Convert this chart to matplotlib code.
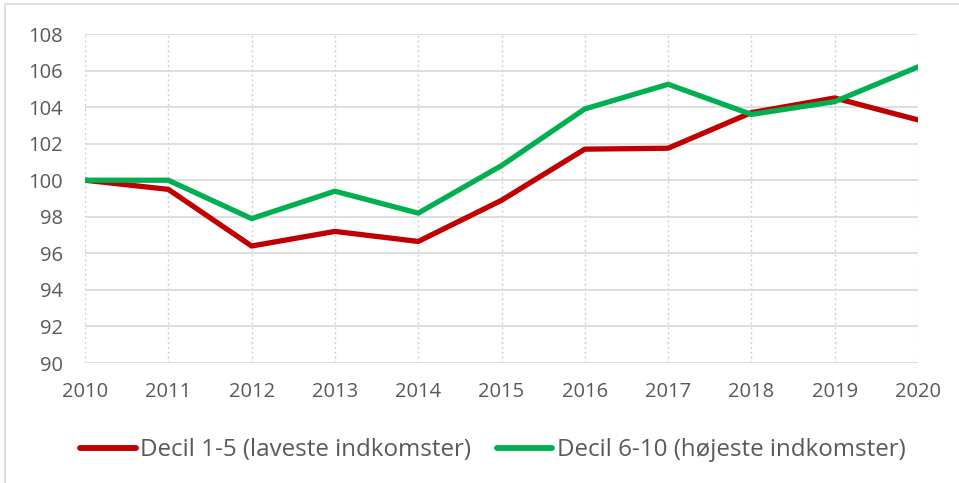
import matplotlib
matplotlib.use("Agg")
import matplotlib.pyplot as plt
from matplotlib.patches import Rectangle

years = [2010, 2011, 2012, 2013, 2014, 2015, 2016, 2017, 2018, 2019, 2020]
decil_1_5 = [100.0, 99.5, 96.4, 97.2, 96.65, 98.9, 101.7, 101.75, 103.7, 104.5, 103.3]
decil_6_10 = [100.0, 100.0, 97.9, 99.4, 98.2, 100.8, 103.9, 105.25, 103.6, 104.3, 106.2]
label_low = "Decil 1-5 (laveste indkomster)"
label_high = "Decil 6-10 (højeste indkomster)"
yticks = list(range(90, 109, 2))

plt.rcParams['font.family'] = ['Open Sans', 'DejaVu Sans']

fig = plt.figure(figsize=(9.59, 4.83), dpi=100)
fig.patches.append(Rectangle((5/959, -0.01), 1.0, 1 - 4/483 + 0.01, transform=fig.transFigure,
                             fill=False, edgecolor='#d9d9d9', linewidth=1.2))
ax = fig.add_axes([85/959, 1 - 363/483, (918 - 85)/959, (363 - 34)/483])

ax.plot(years, decil_1_5, color='#C00000', linewidth=3.8, label=label_low, solid_capstyle='round', zorder=3)
ax.plot(years, decil_6_10, color='#00B050', linewidth=3.8, label=label_high, solid_capstyle='round', zorder=3)

ax.set_xlim(2010, 2020)
ax.set_ylim(90, 108)
ax.set_yticks(yticks)
ax.set_xticks(years)
ax.yaxis.grid(True, color='#d9d9d9', linewidth=1.2, linestyle='-')
ax.xaxis.grid(True, color='#d0d0d0', linewidth=1.0, linestyle=(0, (1.5, 2)))
ax.set_axisbelow(True)
for s in ax.spines.values():
    s.set_visible(False)
ax.tick_params(length=0, labelsize=14.5, colors='#595959')
ax.tick_params(axis='x', pad=14)
ax.tick_params(axis='y', pad=16)
for lab in ax.get_xticklabels() + ax.get_yticklabels():
    lab.set_color('#595959')

leg = fig.legend(loc='center', bbox_to_anchor=(493/959, 1 - 450/483), ncol=2, frameon=False,
                 fontsize=17.4, handlelength=2.3, handletextpad=0.2, columnspacing=1.05)
for t in leg.get_texts():
    t.set_color('#595959')
for h in leg.get_lines():
    h.set_linewidth(4.2)

fig.savefig("out.png", dpi=100)
